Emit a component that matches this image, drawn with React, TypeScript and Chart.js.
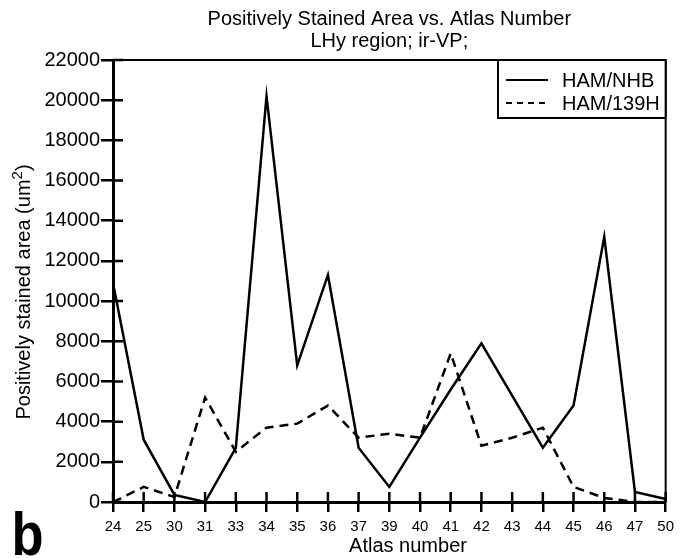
import React, { useEffect, useRef } from "react";
import { Chart, registerables } from "chart.js";
Chart.register(...registerables);

const atlasNumbers = ["24", "25", "30", "31", "33", "34", "35", "36", "37", "39", "40", "41", "42", "43", "44", "45", "46", "47", "50"];
const hamNhb = [10900, 3100, 350, 0, 2700, 20200, 6800, 11300, 2700, 750, 3200, 5600, 7900, 5300, 2700, 4800, 13200, 500, 150];
const ham139h = [0, 750, 250, 5200, 2500, 3700, 3900, 4800, 3200, 3400, 3200, 7400, 2800, 3200, 3700, 750, 200, 0, 0];
const seriesNames = ["HAM/NHB", "HAM/139H"];
const titleLines = ["Positively Stained Area vs. Atlas Number", "LHy region; ir-VP;"];
const yTitle = "Positively stained area (um";
const xTitle = "Atlas number";
const panelLetter = "b";

const FONT = '"Liberation Sans", Arial, Helvetica, sans-serif';

const decorPlugin = {
  id: "decor",
  afterDraw(chart: any) {
    const { ctx, chartArea: ca, scales } = chart;
    ctx.save();
    ctx.strokeStyle = "#000";
    ctx.fillStyle = "#000";
    // frame top/right
    ctx.lineWidth = 2;
    ctx.beginPath();
    ctx.moveTo(ca.left, ca.top);
    ctx.lineTo(ca.right, ca.top);
    ctx.lineTo(ca.right, ca.bottom);
    ctx.stroke();
    // inward ticks
    ctx.lineWidth = 2.5;
    ctx.beginPath();
    scales.y.ticks.forEach((_t: any, i: number) => {
      const y = scales.y.getPixelForTick(i);
      ctx.moveTo(ca.left, y);
      ctx.lineTo(ca.left + 10, y);
    });
    scales.x.ticks.forEach((_t: any, i: number) => {
      const x = scales.x.getPixelForTick(i);
      ctx.moveTo(x, ca.bottom);
      ctx.lineTo(x, ca.bottom - 10);
    });
    ctx.stroke();

    // titles
    const cx = (ca.left + ca.right) / 2;
    ctx.font = `20px ${FONT}`;
    ctx.textAlign = "center";
    ctx.textBaseline = "middle";
    ctx.fillText(titleLines[0], cx, 19);
    ctx.fillText(titleLines[1], cx, 41);

    // x title
    ctx.fillText(xTitle, 408, 546);

    // y title rotated with superscript
    ctx.save();
    ctx.translate(24, 292);
    ctx.rotate(-Math.PI / 2);
    ctx.font = `20px ${FONT}`;
    const w1 = ctx.measureText(yTitle).width;
    ctx.font = `15px ${FONT}`;
    const w2 = ctx.measureText("2").width;
    ctx.font = `20px ${FONT}`;
    const w3 = ctx.measureText(")").width;
    const total = w1 + w2 + w3;
    const x0 = -total / 2;
    ctx.textAlign = "left";
    ctx.fillText(yTitle, x0, 0);
    ctx.font = `15px ${FONT}`;
    ctx.fillText("2", x0 + w1, -6);
    ctx.font = `20px ${FONT}`;
    ctx.fillText(")", x0 + w1 + w2, 0);
    ctx.restore();

    // legend
    const lx = 498, ly = ca.top, lw = ca.right - 498, lh = 58;
    ctx.fillStyle = "#fff";
    ctx.fillRect(lx, ly, lw, lh);
    ctx.fillStyle = "#000";
    ctx.lineWidth = 2;
    ctx.strokeRect(lx, ly, lw, lh);
    const rows = [80, 103];
    ctx.font = `20px ${FONT}`;
    ctx.textAlign = "left";
    rows.forEach((ry, i) => {
      ctx.beginPath();
      ctx.lineWidth = 2;
      ctx.setLineDash(i === 0 ? [] : [6, 5]);
      ctx.moveTo(506, ry);
      ctx.lineTo(548, ry);
      ctx.stroke();
      ctx.setLineDash([]);
      ctx.fillText(seriesNames[i], 562, ry + 1);
    });

    // panel letter
    ctx.save();
    ctx.font = `bold 61px ${FONT}`;
    ctx.textAlign = "left";
    ctx.textBaseline = "alphabetic";
    const m = ctx.measureText(panelLetter);
    ctx.translate(15, 555);
    ctx.scale(0.86, 1);
    ctx.fillText(panelLetter, m.actualBoundingBoxLeft || 0, 0);
    ctx.restore();
    ctx.restore();
  },
};

export default function App() {
  const ref = useRef<HTMLCanvasElement>(null);
  useEffect(() => {
    if (!ref.current) return;
    const chart = new Chart(ref.current, {
      type: "line",
      data: {
        labels: atlasNumbers,
        datasets: [
          {
            label: seriesNames[0],
            data: hamNhb,
            borderColor: "#000",
            borderWidth: 2.5,
            pointRadius: 0,
            tension: 0,
            fill: false,
          },
          {
            label: seriesNames[1],
            data: ham139h,
            borderColor: "#000",
            borderWidth: 2.5,
            borderDash: [9, 6],
            pointRadius: 0,
            tension: 0,
            fill: false,
          },
        ],
      },
      options: {
        responsive: false,
        animation: false,
        layout: { padding: { top: 60, right: 9, left: 0, bottom: 0 } },
        plugins: {
          legend: { display: false },
          title: { display: false },
          tooltip: { enabled: false },
        },
        scales: {
          x: {
            type: "category",
            offset: false,
            grid: { drawOnChartArea: false, tickLength: 10, color: "#000", lineWidth: 2.5 },
            border: { display: true, color: "#000", width: 3 },
            ticks: {
              color: "#000",
              font: { family: FONT, size: 15 },
              padding: 6,
              maxRotation: 0,
              autoSkip: false,
            },
            afterFit: (s: any) => {
              s.height = 56;
            },
          },
          y: {
            min: 0,
            max: 22000,
            grid: { drawOnChartArea: false, tickLength: 12, color: "#000", lineWidth: 2.5 },
            border: { display: true, color: "#000", width: 3 },
            ticks: {
              stepSize: 2000,
              color: "#000",
              font: { family: FONT, size: 20 },
              padding: 1,
              callback: (v: any) => String(v),
            },
            afterFit: (s: any) => {
              s.width = 113;
            },
          },
        },
      },
      plugins: [decorPlugin],
    });
    return () => chart.destroy();
  }, []);
  return (
    <div style={{ position: "fixed", left: 0, top: 0, width: 680, height: 558, background: "#fff" }}>
      <canvas ref={ref} width={680} height={558} style={{ display: "block" }} />
    </div>
  );
}
